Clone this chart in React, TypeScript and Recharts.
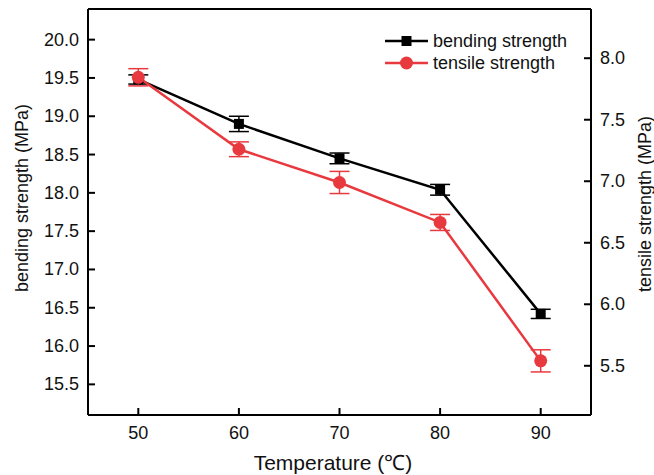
import React from 'react';
import {
  ComposedChart,
  Line,
  XAxis,
  YAxis,
  ErrorBar,
  ReferenceLine,
} from 'recharts';

// values
const temperatures = [50, 60, 70, 80, 90];
const bendingStrength = [19.48, 18.9, 18.45, 18.04, 16.42];
const bendingError = [0.06, 0.1, 0.07, 0.07, 0.06];
const tensileStrength = [7.845, 7.26, 6.99, 6.665, 5.54];
const tensileError = [0.07, 0.06, 0.09, 0.065, 0.09];

const xTicks = [50, 60, 70, 80, 90];
const leftTicks = [15.5, 16.0, 16.5, 17.0, 17.5, 18.0, 18.5, 19.0, 19.5, 20.0];
const rightTicks = [5.5, 6.0, 6.5, 7.0, 7.5, 8.0];

const FONT = '"Liberation Sans", Arial, Helvetica, sans-serif';
const COLORS = {
  bending: '#000000',
  tensile: '#e8393f',
  axis: '#000000',
  text: '#111111',
};
const TICK_LEN = 7;
const TICK_GAP = 9;

const data = temperatures.map((t, i) => ({
  temp: t,
  bending: bendingStrength[i],
  bendingErr: bendingError[i],
  tensile: tensileStrength[i],
  tensileErr: tensileError[i],
}));

const SquareDot = (props: any) => {
  const { cx, cy } = props;
  if (cx == null || cy == null) return null;
  return <rect x={cx - 5} y={cy - 5} width={10} height={10} fill={COLORS.bending} />;
};

const CircleDot = (props: any) => {
  const { cx, cy } = props;
  if (cx == null || cy == null) return null;
  return <circle cx={cx} cy={cy} r={6.5} fill={COLORS.tensile} />;
};

// ticks point into the plot, so the tick line is drawn together with the label
const InwardTick = (props: any) => {
  const { x, y, payload, side } = props;
  const label = side === 'bottom' ? String(payload.value) : Number(payload.value).toFixed(1);
  const textProps = { fill: COLORS.text, fontSize: 18, fontFamily: FONT };
  if (side === 'left') {
    const ax = x + TICK_GAP;
    return (
      <g>
        <line x1={ax} y1={y} x2={ax + TICK_LEN} y2={y} stroke={COLORS.axis} strokeWidth={2} />
        <text x={x} y={y} textAnchor="end" dominantBaseline="central" {...textProps}>{label}</text>
      </g>
    );
  }
  if (side === 'right') {
    const ax = x - TICK_GAP;
    return (
      <g>
        <line x1={ax} y1={y} x2={ax - TICK_LEN} y2={y} stroke={COLORS.axis} strokeWidth={2} />
        <text x={x} y={y} textAnchor="start" dominantBaseline="central" {...textProps}>{label}</text>
      </g>
    );
  }
  const ay = y - TICK_GAP;
  return (
    <g>
      <line x1={x} y1={ay} x2={x} y2={ay - TICK_LEN} stroke={COLORS.axis} strokeWidth={2} />
      <text x={x} y={y + 2} textAnchor="middle" dominantBaseline="hanging" {...textProps}>{label}</text>
    </g>
  );
};

const LegendBox = () => (
  <svg width={210} height={46} style={{ position: 'absolute', left: 383, top: 31 }}>
    <line x1={2} y1={10} x2={45} y2={10} stroke={COLORS.bending} strokeWidth={2.5} />
    <rect x={18.5} y={5} width={10} height={10} fill={COLORS.bending} />
    <text x={50} y={10} dominantBaseline="central" fontSize={18} fontFamily={FONT} fill={COLORS.text}>
      bending strength
    </text>
    <line x1={2} y1={32} x2={45} y2={32} stroke={COLORS.tensile} strokeWidth={2.5} />
    <circle cx={23.5} cy={32} r={6.5} fill={COLORS.tensile} />
    <text x={50} y={32} dominantBaseline="central" fontSize={18} fontFamily={FONT} fill={COLORS.text}>
      tensile strength
    </text>
  </svg>
);

const axisLine = { stroke: COLORS.axis, strokeWidth: 2 };

export default function App() {
  return (
    <div style={{ position: 'absolute', left: 0, top: 0, width: 654, height: 475, background: '#fff' }}>
      <ComposedChart width={654} height={475} data={data} margin={{ top: 9, right: 0, bottom: 0, left: 0 }}>
        <XAxis
          dataKey="temp"
          type="number"
          domain={[45, 95]}
          ticks={xTicks}
          height={60}
          tickSize={0}
          tickMargin={TICK_GAP}
          tickLine={false}
          tick={<InwardTick side="bottom" />}
          axisLine={axisLine}
          label={(p: any) => {
            const vb = p.viewBox || {};
            return (
              <text
                x={333}
                y={(vb.y ?? 415) + 47}
                textAnchor="middle"
                dominantBaseline="central"
                fontSize={21}
                fontFamily={FONT}
                fill={COLORS.text}
              >
                Temperature (℃)
              </text>
            );
          }}
        />
        <YAxis
          yAxisId="left"
          orientation="left"
          domain={[15.1, 20.4]}
          ticks={leftTicks}
          width={88}
          tickSize={0}
          tickMargin={TICK_GAP}
          tickLine={false}
          tick={<InwardTick side="left" />}
          axisLine={axisLine}
          label={() => (
            <text
              x={22}
              y={198}
              transform="rotate(-90, 22, 198)"
              textAnchor="middle"
              dominantBaseline="central"
              fontSize={18}
              fontFamily={FONT}
              fill={COLORS.text}
            >
              bending strength (MPa)
            </text>
          )}
        />
        <YAxis
          yAxisId="right"
          orientation="right"
          domain={[5.1, 8.4]}
          ticks={rightTicks}
          width={63}
          tickSize={0}
          tickMargin={TICK_GAP}
          tickLine={false}
          tick={<InwardTick side="right" />}
          axisLine={axisLine}
          label={() => (
            <text
              x={645}
              y={204}
              transform="rotate(-90, 645, 204)"
              textAnchor="middle"
              dominantBaseline="central"
              fontSize={18}
              fontFamily={FONT}
              fill={COLORS.text}
            >
              tensile strength (MPa)
            </text>
          )}
        />
        {/* top frame line */}
        <ReferenceLine yAxisId="left" y={20.4} stroke={COLORS.axis} strokeWidth={2} />
        <Line
          yAxisId="left"
          dataKey="bending"
          name="bending strength"
          stroke={COLORS.bending}
          strokeWidth={2.5}
          dot={<SquareDot />}
          activeDot={false}
          isAnimationActive={false}
        >
          <ErrorBar dataKey="bendingErr" width={10} stroke={COLORS.bending} strokeWidth={1.5} direction="y" />
        </Line>
        <Line
          yAxisId="right"
          dataKey="tensile"
          name="tensile strength"
          stroke={COLORS.tensile}
          strokeWidth={2.5}
          dot={<CircleDot />}
          activeDot={false}
          isAnimationActive={false}
        >
          <ErrorBar dataKey="tensileErr" width={10} stroke={COLORS.tensile} strokeWidth={1.5} direction="y" />
        </Line>
      </ComposedChart>
      <LegendBox />
    </div>
  );
}
